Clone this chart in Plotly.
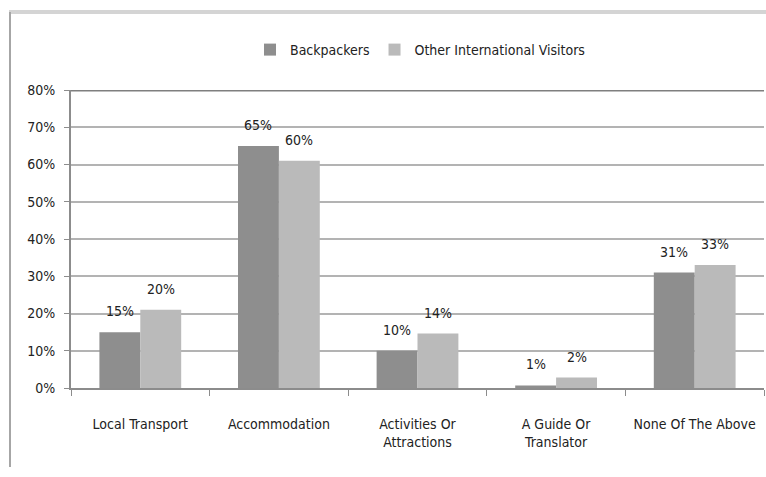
import plotly.graph_objects as go

categories = ["Local Transport", "Accommodation", "Activities Or<br>Attractions",
              "A Guide Or<br>Translator", "None Of The Above"]
backpackers = [0.15, 0.65, 0.10, 0.007, 0.31]
others = [0.21, 0.61, 0.146, 0.028, 0.33]
backpackers_labels = ["15%", "65%", "10%", "1%", "31%"]
others_labels = ["20%", "60%", "14%", "2%", "33%"]
y_ticks = [0, 0.1, 0.2, 0.3, 0.4, 0.5, 0.6, 0.7, 0.8]
y_tick_labels = ["0%", "10%", "20%", "30%", "40%", "50%", "60%", "70%", "80%"]

FONT = "Liberation Sans Narrow, DejaVu Sans Condensed, Arial Narrow, sans-serif"
W, H = 766, 477
L, R, T, B = 71, 2, 90, 89
pw, ph = W - L - R, H - T - B
BARGAP = 0.41

def px_x(x):
    return (x - L) / pw

def px_y(y):
    return (H - B - y) / ph

fig = go.Figure()
fig.add_trace(go.Bar(
    name="Backpackers", x=categories, y=backpackers,
    marker=dict(color="#8e8e8e", line=dict(width=0)),
))
fig.add_trace(go.Bar(
    name="Other International Visitors", x=categories, y=others,
    marker=dict(color="#bababa", line=dict(width=0)),
))

# data labels above bars
cat_px = pw / len(categories)
bar_px = cat_px * (1 - BARGAP) / 2
for vals, labels, sign in ((backpackers, backpackers_labels, -1), (others, others_labels, 1)):
    for i, (v, t) in enumerate(zip(vals, labels)):
        fig.add_annotation(x=categories[i], y=v, text=t, showarrow=False,
                           xshift=sign * bar_px / 2, yshift=11, yanchor="bottom",
                           font=dict(family=FONT, size=14, color="#222222"))

fig.update_layout(
    width=W, height=H,
    margin=dict(l=L, r=R, t=T, b=B),
    paper_bgcolor="white", plot_bgcolor="white",
    barmode="group", bargap=BARGAP, bargroupgap=0.0,
    font=dict(family=FONT, size=14, color="#222222"),
    showlegend=True,
    legend=dict(orientation="h", x=px_x(420), xanchor="center",
                y=px_y(50), yanchor="middle",
                font=dict(family=FONT, size=14, color="#222222"),
                itemwidth=30, tracegroupgap=0, bgcolor="rgba(0,0,0,0)"),
)
fig.update_xaxes(
    type="category", tickson="boundaries", ticks="outside", ticklen=6,
    tickcolor="#8c8c8c", tickwidth=1,
    showline=True, linecolor="#8c8c8c", linewidth=2,
    showgrid=False, tickfont=dict(family=FONT, size=14, color="#222222"),
    ticklabelstandoff=22,
    range=[-0.5, 4.5],
)
fig.update_yaxes(
    range=[0, 0.8], tickvals=y_ticks, ticktext=y_tick_labels,
    ticks="outside", ticklen=5, tickcolor="#8c8c8c",
    showline=True, linecolor="#8c8c8c", linewidth=2,
    showgrid=True, gridcolor="#b3b3b3", gridwidth=2,
    zeroline=False, tickfont=dict(family=FONT, size=14, color="#222222"),
    ticklabelstandoff=6,
)
fig.add_shape(type="line", xref="paper", yref="y", x0=0, x1=1, y0=0.8, y1=0.8,
              line=dict(color="#7f7f7f", width=3), layer="above")
# chart frame
fig.add_shape(type="line", xref="paper", yref="paper",
              x0=px_x(9), x1=1.02, y0=px_y(12), y1=px_y(12),
              line=dict(color="#d4d4d4", width=4))
fig.add_shape(type="line", xref="paper", yref="paper",
              x0=px_x(10), x1=px_x(10), y0=px_y(12), y1=px_y(467),
              line=dict(color="#a6a6a6", width=2))

fig.write_html("out.html")
